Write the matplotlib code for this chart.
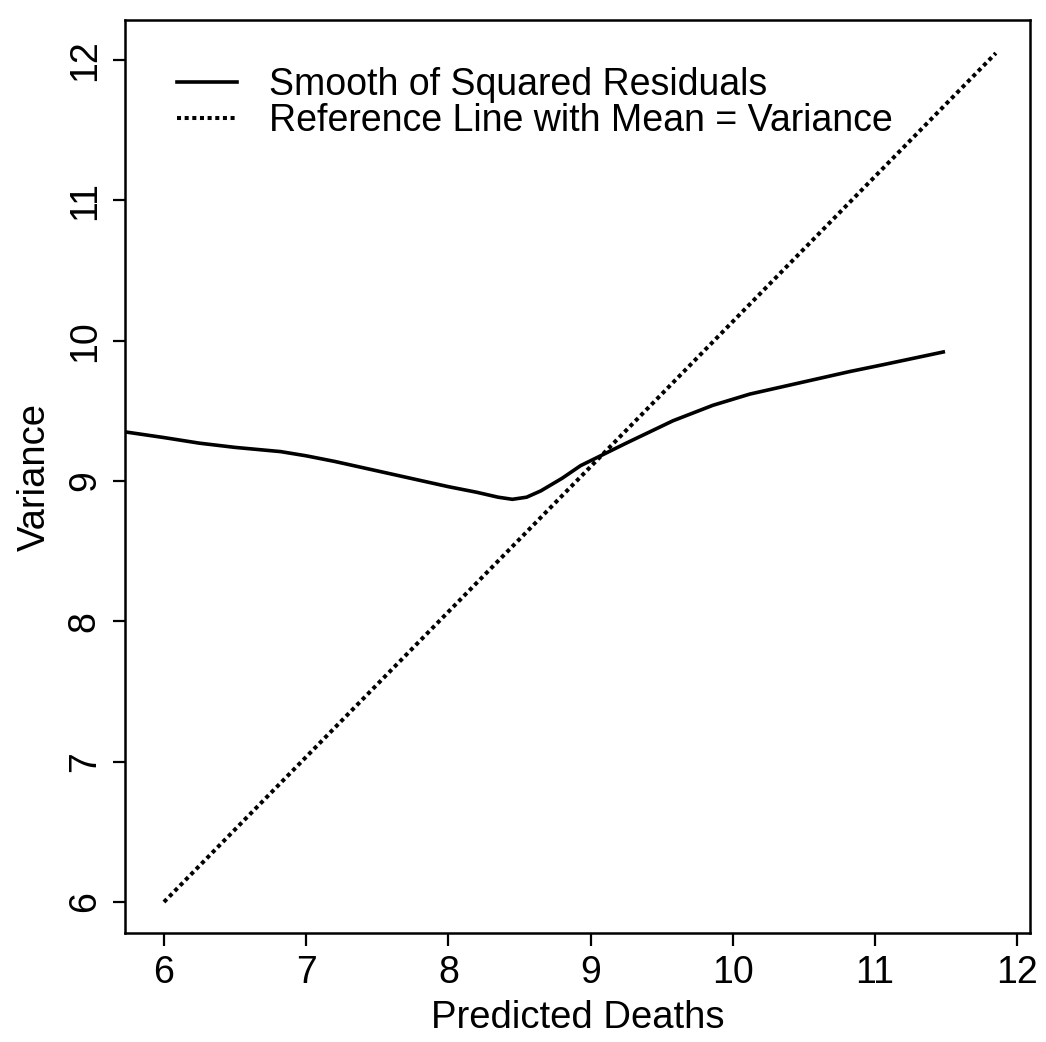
import numpy as np
import matplotlib
matplotlib.use("Agg")
import matplotlib.pyplot as plt

# smooth of squared residuals
pred_deaths = [5.73, 6.0, 6.25, 6.5, 6.82, 7.0, 7.2, 7.6, 8.0, 8.2, 8.35, 8.45,
               8.55, 8.65, 8.8, 8.93, 9.25, 9.58, 9.86, 10.12, 10.47, 10.82, 11.06, 11.48]
smooth_var = [9.35, 9.31, 9.27, 9.24, 9.21, 9.18, 9.14, 9.05, 8.96, 8.92, 8.885, 8.87,
              8.885, 8.93, 9.02, 9.11, 9.27, 9.43, 9.54, 9.62, 9.70, 9.78, 9.83, 9.92]

# reference line mean = variance (end points as drawn on the scan)
ref_x = [6.0, 11.85]
ref_y = [6.0, 12.05]

ticks = [6, 7, 8, 9, 10, 11, 12]
labels = ["Smooth of Squared Residuals", "Reference Line with Mean = Variance"]

plt.rcParams['font.family'] = ['Liberation Sans', 'DejaVu Sans']

fig = plt.figure(figsize=(10.46, 10.42), dpi=100)
ax = fig.add_axes([0.1195, 0.1046, 0.8652, 0.8762])

ax.plot(pred_deaths, smooth_var, color='black', linewidth=2.6, label=labels[0])
ax.plot(ref_x, ref_y, color='black', linewidth=2.9, linestyle=(0, (1, 0.9)),
        label=labels[1])

ax.set_xlim(5.726, 12.09)
ax.set_ylim(5.779, 12.286)
ax.set_xticks(ticks)
ax.set_yticks(ticks)
ax.tick_params(axis='both', direction='out', length=9, width=1.6,
               labelsize=27, color='black')
ax.tick_params(axis='x', pad=7)
ax.tick_params(axis='y', pad=7, labelrotation=90)
for lbl in ax.get_yticklabels():
    lbl.set_va('center')

for sp in ax.spines.values():
    sp.set_linewidth(1.8)

ax.set_xlabel('Predicted Deaths', fontsize=27.5, labelpad=6)
ax.set_ylabel('Variance', fontsize=27.5, labelpad=10)

ax.legend(loc='upper left', bbox_to_anchor=(0.0575, 0.948), frameon=False,
          fontsize=27, handlelength=1.6, handletextpad=0.85,
          labelspacing=-0.02, borderpad=0, borderaxespad=0)

fig.savefig('out.png', dpi=100)
